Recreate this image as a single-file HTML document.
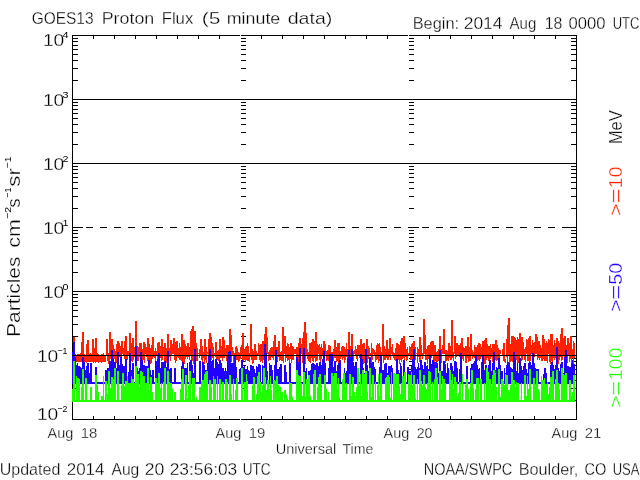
<!DOCTYPE html>
<html><head><meta charset="utf-8"><title>GOES13 Proton Flux</title>
<style>html,body{margin:0;padding:0;background:#fff;overflow:hidden}svg{display:block;will-change:transform}text{font-family:"Liberation Sans",sans-serif;fill:#000}.l{stroke:#000;stroke-width:1;fill:none;shape-rendering:crispEdges}.d{fill:none;stroke-width:1;shape-rendering:crispEdges;stroke-linejoin:miter}</style></head><body>
<svg width="640" height="480" viewBox="0 0 640 480">
<rect width="640" height="480" fill="#fff"/>
<path class="l" d="M72 35.5H577M72 419.5H577M72.5 35V420M576.5 35V420M93.5 35V39M93.5 416V420M114.5 35V39M114.5 416V420M135.5 35V39M135.5 416V420M156.5 35V39M156.5 416V420M177.5 35V39M177.5 416V420M198.5 35V39M198.5 416V420M219.5 35V39M219.5 416V420M261.5 35V39M261.5 416V420M282.5 35V39M282.5 416V420M303.5 35V39M303.5 416V420M324.5 35V39M324.5 416V420M345.5 35V39M345.5 416V420M366.5 35V39M366.5 416V420M387.5 35V39M387.5 416V420M429.5 35V39M429.5 416V420M450.5 35V39M450.5 416V420M471.5 35V39M471.5 416V420M492.5 35V39M492.5 416V420M513.5 35V39M513.5 416V420M534.5 35V39M534.5 416V420M555.5 35V39M555.5 416V420M72 400.5H78M571 400.5H577M72 388.5H78M571 388.5H577M72 380.5H78M571 380.5H577M72 374.5H78M571 374.5H577M72 369.5H78M571 369.5H577M72 365.5H78M571 365.5H577M72 361.5H78M571 361.5H577M72 358.5H78M571 358.5H577M72 336.5H78M571 336.5H577M72 324.5H78M571 324.5H577M72 316.5H78M571 316.5H577M72 310.5H78M571 310.5H577M72 305.5H78M571 305.5H577M72 301.5H78M571 301.5H577M72 297.5H78M571 297.5H577M72 294.5H78M571 294.5H577M72 272.5H78M571 272.5H577M72 260.5H78M571 260.5H577M72 252.5H78M571 252.5H577M72 246.5H78M571 246.5H577M72 241.5H78M571 241.5H577M72 237.5H78M571 237.5H577M72 233.5H78M571 233.5H577M72 230.5H78M571 230.5H577M72 208.5H78M571 208.5H577M72 196.5H78M571 196.5H577M72 188.5H78M571 188.5H577M72 182.5H78M571 182.5H577M72 177.5H78M571 177.5H577M72 173.5H78M571 173.5H577M72 169.5H78M571 169.5H577M72 166.5H78M571 166.5H577M72 144.5H78M571 144.5H577M72 132.5H78M571 132.5H577M72 124.5H78M571 124.5H577M72 118.5H78M571 118.5H577M72 113.5H78M571 113.5H577M72 109.5H78M571 109.5H577M72 105.5H78M571 105.5H577M72 102.5H78M571 102.5H577M72 80.5H78M571 80.5H577M72 68.5H78M571 68.5H577M72 60.5H78M571 60.5H577M72 54.5H78M571 54.5H577M72 49.5H78M571 49.5H577M72 45.5H78M571 45.5H577M72 41.5H78M571 41.5H577M72 38.5H78M571 38.5H577M241 400.5H246M241 388.5H246M241 380.5H246M241 374.5H246M241 369.5H246M241 365.5H246M241 361.5H246M241 358.5H246M241 336.5H246M241 324.5H246M241 316.5H246M241 310.5H246M241 305.5H246M241 301.5H246M241 297.5H246M241 294.5H246M241 272.5H246M241 260.5H246M241 252.5H246M241 246.5H246M241 241.5H246M241 237.5H246M241 233.5H246M241 230.5H246M241 208.5H246M241 196.5H246M241 188.5H246M241 182.5H246M241 177.5H246M241 173.5H246M241 169.5H246M241 166.5H246M241 144.5H246M241 132.5H246M241 124.5H246M241 118.5H246M241 113.5H246M241 109.5H246M241 105.5H246M241 102.5H246M241 80.5H246M241 68.5H246M241 60.5H246M241 54.5H246M241 49.5H246M241 45.5H246M241 41.5H246M241 38.5H246M409 400.5H414M409 388.5H414M409 380.5H414M409 374.5H414M409 369.5H414M409 365.5H414M409 361.5H414M409 358.5H414M409 336.5H414M409 324.5H414M409 316.5H414M409 310.5H414M409 305.5H414M409 301.5H414M409 297.5H414M409 294.5H414M409 272.5H414M409 260.5H414M409 252.5H414M409 246.5H414M409 241.5H414M409 237.5H414M409 233.5H414M409 230.5H414M409 208.5H414M409 196.5H414M409 188.5H414M409 182.5H414M409 177.5H414M409 173.5H414M409 169.5H414M409 166.5H414M409 144.5H414M409 132.5H414M409 124.5H414M409 118.5H414M409 113.5H414M409 109.5H414M409 105.5H414M409 102.5H414M409 80.5H414M409 68.5H414M409 60.5H414M409 54.5H414M409 49.5H414M409 45.5H414M409 41.5H414M409 38.5H414"/>
<path class="l" style="stroke:#fff" d="M240.5 35V420M408.5 35V420"/>
<path fill="#ff2000" shape-rendering="crispEdges" d="M72 354h1v9h-1zM73 337h2v25h-2zM75 354h1v8h-1zM76 355h1v7h-1zM77 354h3v8h-3zM80 353h1v9h-1zM81 342h1v20h-1zM82 332h2v30h-2zM84 354h1v8h-1zM85 355h1v7h-1zM86 344h1v19h-1zM87 340h2v22h-2zM89 354h1v8h-1zM90 353h1v9h-1zM91 354h1v8h-1zM92 339h1v23h-1zM93 339h1v24h-1zM94 348h1v14h-1zM95 338h1v25h-1zM96 338h1v24h-1zM97 353h1v9h-1zM98 354h1v9h-1zM99 355h2v7h-2zM101 354h1v9h-1zM102 354h1v8h-1zM103 353h1v9h-1zM104 355h2v7h-2zM106 339h1v17h-1zM107 339h1v22h-1zM108 353h1v11h-1zM109 332h1v30h-1zM110 332h1v27h-1zM111 339h1v21h-1zM112 339h1v18h-1zM113 345h1v16h-1zM114 349h1v10h-1zM115 351h1v11h-1zM116 344h1v19h-1zM117 341h1v21h-1zM118 341h1v16h-1zM119 343h1v14h-1zM120 346h1v15h-1zM121 341h1v21h-1zM122 341h1v13h-1zM123 348h1v8h-1zM124 341h1v18h-1zM125 336h1v24h-1zM126 336h1v25h-1zM127 351h1v9h-1zM128 351h1v5h-1zM129 333h1v23h-1zM130 333h1v30h-1zM131 343h1v18h-1zM132 338h1v24h-1zM133 338h1v22h-1zM134 347h1v10h-1zM135 321h1v38h-1zM136 321h1v40h-1zM137 346h1v15h-1zM138 347h1v14h-1zM139 343h1v14h-1zM140 343h2v21h-2zM142 349h1v14h-1zM143 342h1v18h-1zM144 342h1v21h-1zM145 344h1v10h-1zM146 347h1v10h-1zM147 338h1v23h-1zM148 338h1v26h-1zM149 344h1v19h-1zM150 348h1v16h-1zM151 345h1v18h-1zM152 337h1v22h-1zM153 337h1v20h-1zM154 351h1v7h-1zM155 348h1v16h-1zM156 351h1v5h-1zM157 343h1v17h-1zM158 342h1v21h-1zM159 342h1v15h-1zM160 346h1v12h-1zM161 339h1v22h-1zM162 339h1v21h-1zM163 347h1v9h-1zM164 343h2v18h-2zM166 348h1v15h-1zM167 334h1v27h-1zM168 334h1v25h-1zM169 348h1v9h-1zM170 340h1v21h-1zM171 340h1v16h-1zM172 344h1v10h-1zM173 338h1v16h-1zM174 338h1v22h-1zM175 342h1v21h-1zM176 341h1v20h-1zM177 341h1v16h-1zM178 348h1v10h-1zM179 343h1v17h-1zM180 347h1v13h-1zM181 334h1v27h-1zM182 334h1v29h-1zM183 340h2v24h-2zM185 344h1v15h-1zM186 346h1v11h-1zM187 343h1v16h-1zM188 343h1v14h-1zM189 347h1v13h-1zM190 331h1v25h-1zM191 329h1v32h-1zM192 326h1v35h-1zM193 326h1v38h-1zM194 331h1v25h-1zM195 331h1v31h-1zM196 343h1v18h-1zM197 348h1v13h-1zM198 353h1v1h-1zM199 349h1v9h-1zM200 339h1v17h-1zM201 339h1v21h-1zM202 346h1v18h-1zM203 352h1v6h-1zM204 339h1v25h-1zM205 339h1v21h-1zM206 347h1v16h-1zM207 352h1v2h-1zM208 339h1v22h-1zM209 333h1v26h-1zM210 333h1v28h-1zM211 337h1v23h-1zM212 343h1v15h-1zM213 347h1v13h-1zM214 353h1v3h-1zM215 342h1v15h-1zM216 342h1v18h-1zM217 351h1v9h-1zM218 350h1v11h-1zM219 339h1v24h-1zM220 339h1v19h-1zM221 346h1v12h-1zM222 337h1v24h-1zM223 337h1v21h-1zM224 340h1v18h-1zM225 348h1v8h-1zM226 345h1v16h-1zM227 345h1v19h-1zM228 345h1v15h-1zM229 329h1v32h-1zM230 329h1v33h-1zM231 335h1v27h-1zM232 347h1v9h-1zM233 351h1v13h-1zM234 353h1v5h-1zM235 347h1v13h-1zM236 346h1v14h-1zM237 348h1v12h-1zM238 352h1v10h-1zM239 353h1v8h-1zM240 347h1v12h-1zM241 345h1v11h-1zM242 333h1v29h-1zM243 333h1v28h-1zM244 349h1v11h-1zM245 347h1v15h-1zM246 346h1v14h-1zM247 343h1v18h-1zM248 346h1v15h-1zM249 353h1v9h-1zM250 324h1v33h-1zM251 324h1v36h-1zM252 349h1v15h-1zM253 351h1v12h-1zM254 344h2v16h-2zM256 351h1v9h-1zM257 353h1v3h-1zM258 343h1v13h-1zM259 345h1v15h-1zM260 344h1v18h-1zM261 344h1v17h-1zM262 341h1v22h-1zM263 341h1v19h-1zM264 334h1v27h-1zM265 327h1v33h-1zM266 327h1v29h-1zM267 337h1v17h-1zM268 352h1v9h-1zM269 350h1v10h-1zM270 348h1v12h-1zM271 347h1v10h-1zM272 347h1v11h-1zM273 341h1v19h-1zM274 335h1v21h-1zM275 335h1v22h-1zM276 347h2v15h-2zM278 341h1v16h-1zM279 341h1v20h-1zM280 352h1v8h-1zM281 351h1v10h-1zM282 327h1v34h-1zM283 327h1v36h-1zM284 336h1v18h-1zM285 336h1v26h-1zM286 346h1v12h-1zM287 343h1v18h-1zM288 344h1v16h-1zM289 347h1v17h-1zM290 343h1v16h-1zM291 343h1v20h-1zM292 346h1v14h-1zM293 347h1v13h-1zM294 349h2v5h-2zM296 347h1v10h-1zM297 347h1v14h-1zM298 343h1v20h-1zM299 338h1v21h-1zM300 338h1v24h-1zM301 344h1v10h-1zM302 338h1v25h-1zM303 332h1v29h-1zM304 322h1v34h-1zM305 322h1v42h-1zM306 333h1v23h-1zM307 349h1v10h-1zM308 352h1v9h-1zM309 343h1v19h-1zM310 343h1v20h-1zM311 342h1v16h-1zM312 339h1v22h-1zM313 339h1v23h-1zM314 341h1v17h-1zM315 332h1v30h-1zM316 332h1v29h-1zM317 344h1v16h-1zM318 345h1v9h-1zM319 344h1v16h-1zM320 347h1v17h-1zM321 344h1v15h-1zM322 348h1v8h-1zM323 341h1v21h-1zM324 341h1v19h-1zM325 344h1v12h-1zM326 351h1v10h-1zM327 350h1v10h-1zM328 345h1v16h-1zM329 345h1v12h-1zM330 346h1v14h-1zM331 352h2v9h-2zM333 349h1v12h-1zM334 340h2v18h-2zM336 347h1v15h-1zM337 343h1v18h-1zM338 343h1v21h-1zM339 343h1v17h-1zM340 351h1v8h-1zM341 347h1v10h-1zM342 346h1v14h-1zM343 346h1v12h-1zM344 347h1v16h-1zM345 349h1v11h-1zM346 343h1v14h-1zM347 349h1v11h-1zM348 332h1v32h-1zM349 332h1v26h-1zM350 346h1v17h-1zM351 334h1v28h-1zM352 334h1v25h-1zM353 351h1v10h-1zM354 350h1v4h-1zM355 346h1v10h-1zM356 349h1v10h-1zM357 345h1v16h-1zM358 345h1v11h-1zM359 345h1v13h-1zM360 339h2v25h-2zM362 344h1v16h-1zM363 343h1v21h-1zM364 343h1v20h-1zM365 353h1v5h-1zM366 339h1v15h-1zM367 339h1v24h-1zM368 346h1v13h-1zM369 348h1v8h-1zM370 353h1v3h-1zM371 343h1v21h-1zM372 348h1v12h-1zM373 349h1v5h-1zM374 350h1v6h-1zM375 352h1v10h-1zM376 345h1v15h-1zM377 343h1v16h-1zM378 344h1v19h-1zM379 343h1v18h-1zM380 347h1v10h-1zM381 352h1v9h-1zM382 324h1v32h-1zM383 324h1v39h-1zM384 346h1v14h-1zM385 349h1v11h-1zM386 340h1v18h-1zM387 340h1v20h-1zM388 349h1v11h-1zM389 338h1v19h-1zM390 338h1v22h-1zM391 347h1v7h-1zM392 344h1v12h-1zM393 352h1v6h-1zM394 353h1v7h-1zM395 348h1v13h-1zM396 343h2v18h-2zM398 344h1v16h-1zM399 345h1v19h-1zM400 341h1v19h-1zM401 338h1v24h-1zM402 338h1v21h-1zM403 336h1v22h-1zM404 336h1v25h-1zM405 343h1v14h-1zM406 349h1v12h-1zM407 347h1v13h-1zM408 353h1v3h-1zM409 346h1v10h-1zM410 347h1v13h-1zM411 344h1v16h-1zM412 343h1v18h-1zM413 341h1v19h-1zM414 341h1v13h-1zM415 347h1v13h-1zM416 353h1v1h-1zM417 347h1v16h-1zM418 349h1v8h-1zM419 337h1v25h-1zM420 337h1v26h-1zM421 345h1v11h-1zM422 353h1v6h-1zM423 319h1v37h-1zM424 319h1v35h-1zM425 335h1v25h-1zM426 349h1v11h-1zM427 346h1v18h-1zM428 345h2v14h-2zM430 342h1v18h-1zM431 341h1v17h-1zM432 341h1v15h-1zM433 341h1v23h-1zM434 345h1v17h-1zM435 345h1v16h-1zM436 352h1v11h-1zM437 351h1v11h-1zM438 349h1v12h-1zM439 336h1v25h-1zM440 336h1v28h-1zM441 349h1v14h-1zM442 345h1v9h-1zM443 329h2v25h-2zM445 350h1v13h-1zM446 350h1v11h-1zM447 351h1v9h-1zM448 343h1v18h-1zM449 343h1v15h-1zM450 346h1v14h-1zM451 320h1v40h-1zM452 320h1v38h-1zM453 352h1v9h-1zM454 336h1v18h-1zM455 336h1v23h-1zM456 343h1v14h-1zM457 343h1v13h-1zM458 345h1v11h-1zM459 345h1v12h-1zM460 343h1v18h-1zM461 338h1v22h-1zM462 338h1v21h-1zM463 347h1v14h-1zM464 348h1v8h-1zM465 346h2v17h-2zM467 337h1v21h-1zM468 337h1v25h-1zM469 347h1v14h-1zM470 334h1v27h-1zM471 334h1v22h-1zM472 350h1v9h-1zM473 352h1v5h-1zM474 345h1v13h-1zM475 347h1v13h-1zM476 347h1v15h-1zM477 345h1v16h-1zM478 343h1v17h-1zM479 343h1v18h-1zM480 344h1v15h-1zM481 347h1v10h-1zM482 341h1v19h-1zM483 341h1v23h-1zM484 340h1v24h-1zM485 338h1v26h-1zM486 338h1v22h-1zM487 344h1v14h-1zM488 346h1v15h-1zM489 346h1v14h-1zM490 344h1v15h-1zM491 348h1v9h-1zM492 344h1v18h-1zM493 344h1v16h-1zM494 344h1v20h-1zM495 340h1v20h-1zM496 340h1v21h-1zM497 345h1v15h-1zM498 348h1v16h-1zM499 350h1v10h-1zM500 350h1v4h-1zM502 349h1v7h-1zM503 343h1v18h-1zM504 343h1v19h-1zM505 359h1v4h-1zM506 339h1v18h-1zM507 325h1v39h-1zM508 318h1v38h-1zM509 318h1v46h-1zM510 344h1v18h-1zM511 336h1v25h-1zM512 336h1v26h-1zM513 336h1v27h-1zM514 337h1v26h-1zM515 338h1v22h-1zM516 340h1v20h-1zM517 337h1v27h-1zM518 339h1v24h-1zM519 333h1v30h-1zM520 333h1v23h-1zM521 337h1v24h-1zM522 337h1v23h-1zM523 342h1v14h-1zM524 349h1v11h-1zM525 347h1v15h-1zM526 339h1v15h-1zM527 340h1v21h-1zM528 338h1v23h-1zM529 336h1v26h-1zM530 336h1v25h-1zM531 345h1v9h-1zM532 340h1v24h-1zM533 343h1v19h-1zM534 342h1v15h-1zM535 334h2v20h-2zM537 337h1v23h-1zM538 341h1v17h-1zM539 341h1v19h-1zM540 345h1v13h-1zM541 348h1v13h-1zM542 335h1v26h-1zM543 335h1v24h-1zM544 339h1v22h-1zM545 343h1v18h-1zM546 341h1v20h-1zM547 343h1v20h-1zM548 339h1v15h-1zM549 340h1v22h-1zM550 334h1v30h-1zM551 334h1v27h-1zM552 334h1v28h-1zM553 345h1v13h-1zM554 340h1v20h-1zM555 343h1v15h-1zM556 338h1v26h-1zM557 338h1v18h-1zM558 341h1v23h-1zM559 343h1v17h-1zM560 334h1v23h-1zM561 328h1v33h-1zM562 328h1v32h-1zM563 338h1v18h-1zM564 336h1v27h-1zM565 336h1v18h-1zM566 345h1v16h-1zM567 338h1v25h-1zM568 338h1v18h-1zM569 343h1v19h-1zM570 336h1v23h-1zM571 336h1v28h-1zM572 349h1v9h-1zM573 341h1v23h-1zM574 343h1v15h-1z"/>
<path fill="#2000ff" shape-rendering="crispEdges" d="M72 352h1v32h-1zM73 342h2v42h-2zM75 357h1v27h-1zM76 365h1v19h-1zM77 363h1v21h-1zM78 366h2v18h-2zM80 367h1v17h-1zM81 368h1v16h-1zM82 357h2v27h-2zM84 362h1v22h-1zM85 370h1v14h-1zM86 366h1v18h-1zM87 363h2v21h-2zM89 373h1v11h-1zM90 363h2v21h-2zM92 382h3v2h-3zM95 367h2v17h-2zM97 382h8v2h-8zM105 370h2v14h-2zM107 368h2v16h-2zM109 361h2v23h-2zM111 350h2v34h-2zM113 359h1v25h-1zM114 362h2v22h-2zM116 368h1v16h-1zM117 352h2v32h-2zM119 365h1v19h-1zM120 357h2v27h-2zM122 364h1v20h-1zM123 366h2v18h-2zM125 359h2v25h-2zM127 382h1v2h-1zM128 372h1v12h-1zM129 353h2v31h-2zM131 370h1v14h-1zM132 363h2v21h-2zM134 382h1v2h-1zM135 346h2v38h-2zM137 368h1v16h-1zM138 371h1v13h-1zM139 368h1v16h-1zM140 352h2v32h-2zM142 360h1v24h-1zM143 365h2v19h-2zM145 366h3v18h-3zM148 360h2v24h-2zM150 370h1v14h-1zM151 375h1v9h-1zM152 370h2v14h-2zM154 382h1v2h-1zM155 361h2v23h-2zM157 359h1v25h-1zM158 353h2v31h-2zM160 368h1v16h-1zM161 362h3v22h-3zM164 361h2v23h-2zM166 367h1v17h-1zM167 351h2v33h-2zM169 369h1v15h-1zM170 368h2v16h-2zM172 382h2v2h-2zM174 368h2v16h-2zM176 382h5v2h-5zM181 366h1v18h-1zM182 362h2v22h-2zM184 368h3v16h-3zM187 363h1v21h-1zM188 382h1v2h-1zM189 362h1v22h-1zM190 360h2v24h-2zM192 365h1v19h-1zM193 373h1v11h-1zM194 349h2v35h-2zM196 382h3v2h-3zM199 361h2v23h-2zM201 382h1v2h-1zM202 362h2v22h-2zM204 365h1v19h-1zM205 370h2v14h-2zM207 363h1v21h-1zM208 355h1v29h-1zM209 349h2v35h-2zM211 361h1v23h-1zM212 360h2v24h-2zM214 368h1v16h-1zM215 359h2v25h-2zM217 362h1v22h-1zM218 364h1v20h-1zM219 360h2v24h-2zM221 363h1v21h-1zM222 368h2v16h-2zM224 371h1v13h-1zM225 368h1v16h-1zM226 371h1v13h-1zM227 355h1v29h-1zM228 352h1v32h-1zM229 351h2v33h-2zM231 363h3v21h-3zM234 355h2v29h-2zM236 367h1v17h-1zM237 382h2v2h-2zM239 369h1v15h-1zM240 368h1v16h-1zM241 360h2v24h-2zM243 367h1v17h-1zM244 366h1v18h-1zM245 369h2v15h-2zM247 366h1v18h-1zM248 370h1v14h-1zM249 371h1v13h-1zM250 365h2v19h-2zM252 366h2v18h-2zM254 369h1v15h-1zM255 373h1v11h-1zM256 366h1v18h-1zM257 367h1v17h-1zM258 364h2v20h-2zM260 365h1v19h-1zM261 382h1v2h-1zM262 365h1v19h-1zM263 366h1v18h-1zM264 344h2v40h-2zM266 353h1v31h-1zM267 371h1v13h-1zM268 382h1v2h-1zM269 363h1v21h-1zM270 365h2v19h-2zM272 370h1v14h-1zM273 382h1v2h-1zM274 365h1v19h-1zM275 350h2v34h-2zM277 369h2v15h-2zM279 367h1v17h-1zM280 364h2v20h-2zM282 382h2v2h-2zM284 365h2v19h-2zM286 372h1v12h-1zM287 382h2v2h-2zM289 363h2v21h-2zM291 382h5v2h-5zM296 357h2v27h-2zM298 362h1v22h-1zM299 348h2v36h-2zM301 382h2v2h-2zM303 348h2v36h-2zM305 371h1v13h-1zM306 368h1v16h-1zM307 382h1v2h-1zM308 371h2v13h-2zM310 370h1v14h-1zM311 364h1v20h-1zM312 363h2v21h-2zM314 364h1v20h-1zM315 365h1v19h-1zM316 363h2v21h-2zM318 366h1v18h-1zM319 362h2v22h-2zM321 365h1v19h-1zM322 359h1v25h-1zM323 351h2v33h-2zM325 363h1v21h-1zM326 382h2v2h-2zM328 368h1v16h-1zM329 354h4v30h-4zM333 367h1v17h-1zM334 361h2v23h-2zM336 371h1v13h-1zM337 365h1v19h-1zM338 363h1v21h-1zM339 360h2v24h-2zM341 382h3v2h-3zM344 368h1v16h-1zM345 373h1v11h-1zM346 371h1v13h-1zM347 358h1v26h-1zM348 350h2v34h-2zM350 357h1v27h-1zM351 349h2v35h-2zM353 362h1v22h-1zM354 366h1v18h-1zM355 362h2v22h-2zM357 372h1v12h-1zM358 369h1v15h-1zM359 382h1v2h-1zM360 354h2v30h-2zM362 359h1v25h-1zM363 368h1v16h-1zM364 373h1v11h-1zM365 349h2v35h-2zM367 365h1v19h-1zM368 371h1v13h-1zM369 357h2v27h-2zM371 363h1v21h-1zM372 362h2v22h-2zM374 367h1v17h-1zM375 369h1v15h-1zM376 382h3v2h-3zM379 367h1v17h-1zM380 356h2v28h-2zM382 370h2v14h-2zM384 364h1v20h-1zM385 363h2v21h-2zM387 373h1v11h-1zM388 366h3v18h-3zM391 365h1v19h-1zM392 368h1v16h-1zM393 382h3v2h-3zM396 359h2v25h-2zM398 370h1v14h-1zM399 373h1v11h-1zM400 363h1v21h-1zM401 366h1v18h-1zM402 382h1v2h-1zM403 360h2v24h-2zM405 382h2v2h-2zM407 367h2v17h-2zM409 371h2v13h-2zM411 366h1v18h-1zM412 359h1v25h-1zM413 349h2v35h-2zM415 367h1v17h-1zM416 369h1v15h-1zM417 367h1v17h-1zM418 363h1v21h-1zM419 368h1v16h-1zM420 360h2v24h-2zM422 365h1v19h-1zM423 369h1v15h-1zM424 362h2v22h-2zM426 366h1v18h-1zM427 365h1v19h-1zM428 369h1v15h-1zM429 355h2v29h-2zM431 364h1v20h-1zM432 360h2v24h-2zM434 362h3v22h-3zM437 363h1v21h-1zM438 373h1v11h-1zM439 350h2v34h-2zM441 371h2v13h-2zM443 361h2v23h-2zM445 364h1v20h-1zM446 373h1v11h-1zM447 363h1v21h-1zM448 368h1v16h-1zM449 371h1v13h-1zM450 363h2v21h-2zM452 366h1v18h-1zM453 371h1v13h-1zM454 361h2v23h-2zM456 362h1v22h-1zM457 368h1v16h-1zM458 382h1v2h-1zM459 369h1v15h-1zM460 353h2v31h-2zM462 382h4v2h-4zM466 366h2v18h-2zM468 382h2v2h-2zM470 368h1v16h-1zM471 364h2v20h-2zM473 363h1v21h-1zM474 361h1v23h-1zM475 355h2v29h-2zM477 365h1v19h-1zM478 369h1v15h-1zM479 368h1v16h-1zM480 382h1v2h-1zM481 362h1v22h-1zM482 356h2v28h-2zM484 370h1v14h-1zM485 365h2v19h-2zM487 369h1v15h-1zM488 365h1v19h-1zM489 360h2v24h-2zM491 371h1v13h-1zM492 363h1v21h-1zM493 352h2v32h-2zM495 370h1v14h-1zM496 367h1v17h-1zM497 368h1v16h-1zM498 358h2v26h-2zM500 365h1v19h-1zM501 371h2v13h-2zM503 382h1v2h-1zM504 368h1v16h-1zM505 373h1v11h-1zM506 365h1v19h-1zM507 362h2v22h-2zM509 363h1v21h-1zM510 367h1v17h-1zM511 368h1v16h-1zM512 369h1v15h-1zM513 352h2v32h-2zM515 359h1v25h-1zM516 371h1v13h-1zM517 363h1v21h-1zM518 373h1v11h-1zM519 358h2v26h-2zM521 366h1v18h-1zM522 370h1v14h-1zM523 366h1v18h-1zM524 363h2v21h-2zM526 369h1v15h-1zM527 373h1v11h-1zM528 363h1v21h-1zM529 362h2v22h-2zM531 365h1v19h-1zM532 353h2v31h-2zM534 363h1v21h-1zM535 368h1v16h-1zM536 369h3v15h-3zM539 382h4v2h-4zM543 374h1v10h-1zM544 368h2v16h-2zM546 373h1v11h-1zM547 382h3v2h-3zM550 365h1v19h-1zM551 362h2v22h-2zM553 365h1v19h-1zM554 369h1v15h-1zM555 365h1v19h-1zM556 347h2v37h-2zM558 368h1v16h-1zM559 371h1v13h-1zM560 364h1v20h-1zM561 362h2v22h-2zM563 373h1v11h-1zM564 357h1v27h-1zM565 350h2v34h-2zM567 366h2v18h-2zM569 367h2v17h-2zM571 363h1v21h-1zM572 360h1v24h-1zM573 364h2v20h-2z"/>
<path fill="#20ff00" shape-rendering="crispEdges" d="M72 389h1v13h-1zM73 361h2v41h-2zM75 400h1v2h-1zM76 376h1v26h-1zM77 378h2v24h-2zM79 379h1v23h-1zM80 400h1v2h-1zM81 387h1v15h-1zM82 369h2v33h-2zM84 400h1v2h-1zM85 378h2v24h-2zM87 400h3v2h-3zM90 387h2v15h-2zM92 400h3v2h-3zM95 375h2v27h-2zM97 385h1v17h-1zM98 392h1v10h-1zM99 400h2v2h-2zM101 396h2v6h-2zM103 376h1v26h-1zM104 400h1v2h-1zM105 381h2v21h-2zM107 394h1v8h-1zM108 371h2v31h-2zM110 388h1v14h-1zM111 377h2v25h-2zM113 379h1v23h-1zM114 368h2v34h-2zM116 400h1v2h-1zM117 371h2v31h-2zM119 400h2v2h-2zM121 385h1v17h-1zM122 373h2v29h-2zM124 386h1v16h-1zM125 381h2v21h-2zM127 376h1v26h-1zM128 383h3v19h-3zM131 376h1v26h-1zM132 379h2v23h-2zM134 383h1v19h-1zM135 366h2v36h-2zM137 374h2v28h-2zM139 387h1v15h-1zM140 371h2v31h-2zM142 372h1v30h-1zM143 376h2v26h-2zM145 383h2v19h-2zM147 368h2v34h-2zM149 390h1v12h-1zM150 377h2v25h-2zM152 392h1v10h-1zM153 400h2v2h-2zM155 378h2v24h-2zM157 383h1v19h-1zM158 373h2v29h-2zM160 388h1v14h-1zM161 383h1v19h-1zM162 400h1v2h-1zM163 382h1v20h-1zM164 368h2v34h-2zM166 400h1v2h-1zM167 371h2v31h-2zM169 382h1v20h-1zM170 383h2v19h-2zM172 389h1v13h-1zM173 400h1v2h-1zM174 392h2v10h-2zM176 400h4v2h-4zM180 389h1v13h-1zM181 379h1v23h-1zM182 369h2v33h-2zM184 400h1v2h-1zM185 375h2v27h-2zM187 398h1v4h-1zM188 385h1v17h-1zM189 371h2v31h-2zM191 400h1v2h-1zM192 378h3v24h-3zM195 400h1v2h-1zM196 397h1v5h-1zM197 400h2v2h-2zM199 387h2v15h-2zM201 381h1v21h-1zM202 380h2v22h-2zM204 374h1v28h-1zM205 372h1v30h-1zM206 371h2v31h-2zM208 400h1v2h-1zM209 380h2v22h-2zM211 387h1v15h-1zM212 400h1v2h-1zM213 376h1v26h-1zM214 379h2v23h-2zM216 400h1v2h-1zM217 376h1v26h-1zM218 400h1v2h-1zM219 379h2v23h-2zM221 400h1v2h-1zM222 382h2v20h-2zM224 400h1v2h-1zM225 379h2v23h-2zM227 382h1v20h-1zM228 400h1v2h-1zM229 375h2v27h-2zM231 394h1v8h-1zM232 400h1v2h-1zM233 379h1v23h-1zM234 400h1v2h-1zM235 390h1v12h-1zM236 378h2v24h-2zM238 400h3v2h-3zM241 368h2v34h-2zM243 400h1v2h-1zM244 382h2v20h-2zM246 374h1v28h-1zM247 381h1v21h-1zM248 400h4v2h-4zM252 385h1v17h-1zM253 377h2v25h-2zM255 400h1v2h-1zM256 394h1v8h-1zM257 376h1v26h-1zM258 372h2v30h-2zM260 382h1v20h-1zM261 392h1v10h-1zM262 385h1v17h-1zM263 368h2v34h-2zM265 377h1v25h-1zM266 390h1v12h-1zM267 380h2v22h-2zM269 389h1v13h-1zM270 376h1v26h-1zM271 390h1v12h-1zM272 400h1v2h-1zM273 380h2v22h-2zM275 381h1v21h-1zM276 376h2v26h-2zM278 385h1v17h-1zM279 387h2v15h-2zM281 391h1v11h-1zM282 392h1v10h-1zM283 400h1v2h-1zM284 390h2v12h-2zM286 394h1v8h-1zM287 398h1v4h-1zM288 400h1v2h-1zM289 382h1v20h-1zM290 383h2v19h-2zM292 397h1v5h-1zM293 400h3v2h-3zM296 370h2v32h-2zM298 375h1v27h-1zM299 376h2v26h-2zM301 383h1v19h-1zM302 396h1v6h-1zM303 372h2v30h-2zM305 397h1v5h-1zM306 379h2v23h-2zM308 375h2v27h-2zM310 396h1v6h-1zM311 400h2v2h-2zM313 374h1v28h-1zM314 370h2v32h-2zM316 400h1v2h-1zM317 387h1v15h-1zM318 377h1v25h-1zM319 374h2v28h-2zM321 385h1v17h-1zM322 400h2v2h-2zM324 375h2v27h-2zM326 389h1v13h-1zM327 400h1v2h-1zM328 392h1v10h-1zM329 400h2v2h-2zM331 373h2v29h-2zM333 376h1v26h-1zM334 373h3v29h-3zM337 389h1v13h-1zM338 378h1v24h-1zM339 397h1v5h-1zM340 400h2v2h-2zM342 379h1v23h-1zM343 373h2v29h-2zM345 387h1v15h-1zM346 383h1v19h-1zM347 400h2v2h-2zM349 374h2v28h-2zM351 396h1v6h-1zM352 377h2v25h-2zM354 392h1v10h-1zM355 396h1v6h-1zM356 387h1v15h-1zM357 368h2v34h-2zM359 386h1v16h-1zM360 374h1v28h-1zM361 396h1v6h-1zM362 370h2v32h-2zM364 374h1v28h-1zM365 371h2v31h-2zM367 392h1v10h-1zM368 400h1v2h-1zM369 368h2v34h-2zM371 397h1v5h-1zM372 375h2v27h-2zM374 400h1v2h-1zM375 382h1v20h-1zM376 400h1v2h-1zM377 385h1v17h-1zM378 374h1v28h-1zM379 396h1v6h-1zM380 373h2v29h-2zM382 400h3v2h-3zM385 378h1v24h-1zM386 377h1v25h-1zM387 375h2v27h-2zM389 377h1v25h-1zM390 398h1v4h-1zM391 372h1v30h-1zM392 400h1v2h-1zM393 373h2v29h-2zM395 374h4v28h-4zM399 386h1v16h-1zM400 394h1v8h-1zM401 383h1v19h-1zM402 376h2v26h-2zM404 372h2v30h-2zM406 400h2v2h-2zM408 374h1v28h-1zM409 375h2v27h-2zM411 372h1v30h-1zM412 385h1v17h-1zM413 375h2v27h-2zM415 398h1v4h-1zM416 400h1v2h-1zM417 379h1v23h-1zM418 400h1v2h-1zM419 370h2v32h-2zM421 381h1v21h-1zM422 385h1v17h-1zM423 375h2v27h-2zM425 387h1v15h-1zM426 389h1v13h-1zM427 383h1v19h-1zM428 371h2v31h-2zM430 372h1v30h-1zM431 400h1v2h-1zM432 382h1v20h-1zM433 400h1v2h-1zM434 379h1v23h-1zM435 368h2v34h-2zM437 377h1v25h-1zM438 400h1v2h-1zM439 371h2v31h-2zM441 389h1v13h-1zM442 376h1v26h-1zM443 379h2v23h-2zM445 383h1v19h-1zM446 400h3v2h-3zM449 370h2v32h-2zM451 380h1v22h-1zM452 374h1v28h-1zM453 389h1v13h-1zM454 377h2v25h-2zM456 382h1v20h-1zM457 396h1v6h-1zM458 393h1v9h-1zM459 382h2v20h-2zM461 400h1v2h-1zM462 374h1v28h-1zM463 400h2v2h-2zM465 385h1v17h-1zM466 379h2v23h-2zM468 389h1v13h-1zM469 400h1v2h-1zM470 383h1v19h-1zM471 370h2v32h-2zM473 388h1v14h-1zM474 400h1v2h-1zM475 389h1v13h-1zM476 378h3v24h-3zM479 400h1v2h-1zM480 379h2v23h-2zM482 400h2v2h-2zM484 383h1v19h-1zM485 400h1v2h-1zM486 368h2v34h-2zM488 372h1v30h-1zM489 379h2v23h-2zM491 386h1v16h-1zM492 375h1v27h-1zM493 370h2v32h-2zM495 373h1v29h-1zM496 387h1v15h-1zM497 400h1v2h-1zM498 369h2v33h-2zM500 397h1v5h-1zM501 379h2v23h-2zM503 381h1v21h-1zM504 385h1v17h-1zM505 374h1v28h-1zM506 375h2v27h-2zM508 390h1v12h-1zM509 392h1v10h-1zM510 385h1v17h-1zM511 372h2v30h-2zM513 380h2v22h-2zM515 387h1v15h-1zM516 382h1v20h-1zM517 383h2v19h-2zM519 400h2v2h-2zM521 383h1v19h-1zM522 400h2v2h-2zM524 375h2v27h-2zM526 396h1v6h-1zM527 376h1v26h-1zM528 389h1v13h-1zM529 369h2v33h-2zM531 400h2v2h-2zM533 378h2v24h-2zM535 384h1v18h-1zM536 371h2v31h-2zM538 389h1v13h-1zM539 392h1v10h-1zM540 400h1v2h-1zM541 376h1v26h-1zM542 380h2v22h-2zM544 378h1v24h-1zM545 384h2v18h-2zM547 382h1v20h-1zM548 394h1v8h-1zM549 387h1v15h-1zM550 377h2v25h-2zM552 371h2v31h-2zM554 400h1v2h-1zM555 379h1v23h-1zM556 370h2v32h-2zM558 383h1v19h-1zM559 389h1v13h-1zM560 400h1v2h-1zM561 368h2v34h-2zM563 374h1v28h-1zM564 375h1v27h-1zM565 373h2v29h-2zM567 400h2v2h-2zM569 380h2v22h-2zM571 396h1v6h-1zM572 392h1v10h-1zM573 375h2v27h-2z"/>

<path class="l" d="M72 99.5H577M72 163.5H577M72 291.5H577M72 355.5H577"/>
<path class="l" d="M72 227.5H79M86 227.5H93M100 227.5H107M114 227.5H121M128 227.5H135M142 227.5H149M156 227.5H163M170 227.5H177M184 227.5H191M198 227.5H205M212 227.5H219M226 227.5H233M240 227.5H247M254 227.5H261M268 227.5H275M282 227.5H289M296 227.5H303M310 227.5H317M324 227.5H331M338 227.5H345M352 227.5H359M366 227.5H373M380 227.5H387M394 227.5H401M408 227.5H415M422 227.5H429M436 227.5H443M450 227.5H457M464 227.5H471M478 227.5H485M492 227.5H499M506 227.5H513M520 227.5H527M534 227.5H541M548 227.5H555M562 227.5H569M576 227.5H577M72 227.5H83M240 227.5H251M408 227.5H419M566 227.5H577"/>
<text x="31.70" y="24" font-size="17" textLength="61.80" lengthAdjust="spacingAndGlyphs" style="fill:#000;stroke:#fff;stroke-width:0.3;paint-order:fill stroke">GOES13</text>
<text x="101.70" y="24" font-size="17" textLength="52.60" lengthAdjust="spacingAndGlyphs" style="fill:#000;stroke:#fff;stroke-width:0.3;paint-order:fill stroke">Proton</text>
<text x="161.70" y="24" font-size="17" textLength="31.60" lengthAdjust="spacingAndGlyphs" style="fill:#000;stroke:#fff;stroke-width:0.3;paint-order:fill stroke">Flux</text>
<text x="201.70" y="24" font-size="17" textLength="18.60" lengthAdjust="spacingAndGlyphs" style="fill:#000;stroke:#fff;stroke-width:0.3;paint-order:fill stroke">(5</text>
<text x="226.70" y="24" font-size="17" textLength="53.60" lengthAdjust="spacingAndGlyphs" style="fill:#000;stroke:#fff;stroke-width:0.3;paint-order:fill stroke">minute</text>
<text x="287.70" y="24" font-size="17" textLength="44.60" lengthAdjust="spacingAndGlyphs" style="fill:#000;stroke:#fff;stroke-width:0.3;paint-order:fill stroke">data)</text>
<text x="412.70" y="29" font-size="15.8" textLength="46.40" lengthAdjust="spacingAndGlyphs" style="fill:#000;stroke:#fff;stroke-width:0.3;paint-order:fill stroke">Begin:</text>
<text x="463.70" y="29" font-size="15.8" textLength="38.80" lengthAdjust="spacingAndGlyphs" style="fill:#000;stroke:#fff;stroke-width:0.3;paint-order:fill stroke">2014</text>
<text x="509.50" y="29" font-size="15.8" textLength="26.80" lengthAdjust="spacingAndGlyphs" style="fill:#000;stroke:#fff;stroke-width:0.3;paint-order:fill stroke">Aug</text>
<text x="544.70" y="29" font-size="15.8" textLength="17.60" lengthAdjust="spacingAndGlyphs" style="fill:#000;stroke:#fff;stroke-width:0.3;paint-order:fill stroke">18</text>
<text x="568.50" y="29" font-size="15.8" textLength="37.00" lengthAdjust="spacingAndGlyphs" style="fill:#000;stroke:#fff;stroke-width:0.3;paint-order:fill stroke">0000</text>
<text x="612.70" y="29" font-size="15.8" textLength="26.80" lengthAdjust="spacingAndGlyphs" style="fill:#000;stroke:#fff;stroke-width:0.3;paint-order:fill stroke">UTC</text>
<text x="-0.30" y="475" font-size="15.8" textLength="60.60" lengthAdjust="spacingAndGlyphs" style="fill:#000;stroke:#fff;stroke-width:0.3;paint-order:fill stroke">Updated</text>
<text x="66.70" y="475" font-size="15.8" textLength="37.80" lengthAdjust="spacingAndGlyphs" style="fill:#000;stroke:#fff;stroke-width:0.3;paint-order:fill stroke">2014</text>
<text x="111.50" y="475" font-size="15.8" textLength="27.80" lengthAdjust="spacingAndGlyphs" style="fill:#000;stroke:#fff;stroke-width:0.3;paint-order:fill stroke">Aug</text>
<text x="144.70" y="475" font-size="15.8" textLength="19.60" lengthAdjust="spacingAndGlyphs" style="fill:#000;stroke:#fff;stroke-width:0.3;paint-order:fill stroke">20</text>
<text x="169.70" y="475" font-size="15.8" textLength="67.60" lengthAdjust="spacingAndGlyphs" style="fill:#000;stroke:#fff;stroke-width:0.3;paint-order:fill stroke">23:56:03</text>
<text x="242.70" y="475" font-size="15.8" textLength="27.80" lengthAdjust="spacingAndGlyphs" style="fill:#000;stroke:#fff;stroke-width:0.3;paint-order:fill stroke">UTC</text>
<text x="423.70" y="475" font-size="15.8" textLength="88.60" lengthAdjust="spacingAndGlyphs" style="fill:#000;stroke:#fff;stroke-width:0.3;paint-order:fill stroke">NOAA/SWPC</text>
<text x="518.70" y="475" font-size="15.8" textLength="59.60" lengthAdjust="spacingAndGlyphs" style="fill:#000;stroke:#fff;stroke-width:0.3;paint-order:fill stroke">Boulder,</text>
<text x="584.50" y="475" font-size="15.8" textLength="21.80" lengthAdjust="spacingAndGlyphs" style="fill:#000;stroke:#fff;stroke-width:0.3;paint-order:fill stroke">CO</text>
<text x="612.70" y="475" font-size="15.8" textLength="26.80" lengthAdjust="spacingAndGlyphs" style="fill:#000;stroke:#fff;stroke-width:0.3;paint-order:fill stroke">USA</text>
<text x="275.70" y="454" font-size="14" textLength="60.60" lengthAdjust="spacingAndGlyphs" style="fill:#000;stroke:#fff;stroke-width:0.3;paint-order:fill stroke">Universal</text>
<text x="342.50" y="454" font-size="14" textLength="30.80" lengthAdjust="spacingAndGlyphs" style="fill:#000;stroke:#fff;stroke-width:0.3;paint-order:fill stroke">Time</text>
<text x="47.50" y="438" font-size="14" textLength="25.80" lengthAdjust="spacingAndGlyphs" style="fill:#000;stroke:#fff;stroke-width:0.3;paint-order:fill stroke">Aug</text>
<text x="80.70" y="438" font-size="14" textLength="16.60" lengthAdjust="spacingAndGlyphs" style="fill:#000;stroke:#fff;stroke-width:0.3;paint-order:fill stroke">18</text>
<text x="215.50" y="438" font-size="14" textLength="25.80" lengthAdjust="spacingAndGlyphs" style="fill:#000;stroke:#fff;stroke-width:0.3;paint-order:fill stroke">Aug</text>
<text x="248.70" y="438" font-size="14" textLength="16.60" lengthAdjust="spacingAndGlyphs" style="fill:#000;stroke:#fff;stroke-width:0.3;paint-order:fill stroke">19</text>
<text x="383.50" y="438" font-size="14" textLength="25.80" lengthAdjust="spacingAndGlyphs" style="fill:#000;stroke:#fff;stroke-width:0.3;paint-order:fill stroke">Aug</text>
<text x="416.70" y="438" font-size="14" textLength="15.80" lengthAdjust="spacingAndGlyphs" style="fill:#000;stroke:#fff;stroke-width:0.3;paint-order:fill stroke">20</text>
<text x="551.50" y="438" font-size="14" textLength="25.80" lengthAdjust="spacingAndGlyphs" style="fill:#000;stroke:#fff;stroke-width:0.3;paint-order:fill stroke">Aug</text>
<text x="584.70" y="438" font-size="14" textLength="16.60" lengthAdjust="spacingAndGlyphs" style="fill:#000;stroke:#fff;stroke-width:0.3;paint-order:fill stroke">21</text>
<text x="42.90" y="46" font-size="17" textLength="21.40" lengthAdjust="spacingAndGlyphs" style="fill:#000;stroke:#fff;stroke-width:0.3;paint-order:fill stroke">10</text>
<text x="62.50" y="38" font-size="9.5" textLength="6.00" lengthAdjust="spacingAndGlyphs" style="fill:#000">4</text>
<text x="42.90" y="106" font-size="17" textLength="21.40" lengthAdjust="spacingAndGlyphs" style="fill:#000;stroke:#fff;stroke-width:0.3;paint-order:fill stroke">10</text>
<text x="62.50" y="98" font-size="9.5" textLength="6.00" lengthAdjust="spacingAndGlyphs" style="fill:#000">3</text>
<text x="42.90" y="170" font-size="17" textLength="21.40" lengthAdjust="spacingAndGlyphs" style="fill:#000;stroke:#fff;stroke-width:0.3;paint-order:fill stroke">10</text>
<text x="62.50" y="162" font-size="9.5" textLength="6.00" lengthAdjust="spacingAndGlyphs" style="fill:#000">2</text>
<text x="42.90" y="234" font-size="17" textLength="21.40" lengthAdjust="spacingAndGlyphs" style="fill:#000;stroke:#fff;stroke-width:0.3;paint-order:fill stroke">10</text>
<text x="62.50" y="226" font-size="9.5" textLength="6.00" lengthAdjust="spacingAndGlyphs" style="fill:#000">1</text>
<text x="42.90" y="298" font-size="17" textLength="21.40" lengthAdjust="spacingAndGlyphs" style="fill:#000;stroke:#fff;stroke-width:0.3;paint-order:fill stroke">10</text>
<text x="62.50" y="290" font-size="9.5" textLength="6.00" lengthAdjust="spacingAndGlyphs" style="fill:#000">0</text>
<text x="36.90" y="362" font-size="17" textLength="21.40" lengthAdjust="spacingAndGlyphs" style="fill:#000;stroke:#fff;stroke-width:0.3;paint-order:fill stroke">10</text>
<text x="57.50" y="354" font-size="9.5" textLength="10.00" lengthAdjust="spacingAndGlyphs" style="fill:#000">−1</text>
<text x="36.90" y="420" font-size="17" textLength="21.40" lengthAdjust="spacingAndGlyphs" style="fill:#000;stroke:#fff;stroke-width:0.3;paint-order:fill stroke">10</text>
<text x="57.50" y="412" font-size="9.5" textLength="10.00" lengthAdjust="spacingAndGlyphs" style="fill:#000">−2</text>
<text transform="translate(20.00 336.90) rotate(-90)" font-size="18.7" textLength="80.40" lengthAdjust="spacingAndGlyphs" style="fill:#000;stroke:#fff;stroke-width:0.3;paint-order:fill stroke">Particles</text>
<text transform="translate(20.00 247.70) rotate(-90)" font-size="18.7" textLength="28.60" lengthAdjust="spacingAndGlyphs" style="fill:#000;stroke:#fff;stroke-width:0.3;paint-order:fill stroke">cm</text>
<text transform="translate(20.00 207.70) rotate(-90)" font-size="18.7" textLength="9.40" lengthAdjust="spacingAndGlyphs" style="fill:#000;stroke:#fff;stroke-width:0.3;paint-order:fill stroke">s</text>
<text transform="translate(20.00 186.65) rotate(-90)" font-size="18.7" textLength="18.60" lengthAdjust="spacingAndGlyphs" style="fill:#000;stroke:#fff;stroke-width:0.3;paint-order:fill stroke">sr</text>
<text transform="translate(11.00 218.80) rotate(-90)" font-size="9.5" textLength="12.00" lengthAdjust="spacingAndGlyphs" style="fill:#000">−2</text>
<text transform="translate(11.00 197.70) rotate(-90)" font-size="9.5" textLength="10.10" lengthAdjust="spacingAndGlyphs" style="fill:#000">−1</text>
<text transform="translate(11.00 168.30) rotate(-90)" font-size="9.5" textLength="12.00" lengthAdjust="spacingAndGlyphs" style="fill:#000">−1</text>
<text transform="translate(622.00 144.10) rotate(-90)" font-size="18.7" textLength="33.80" lengthAdjust="spacingAndGlyphs" style="fill:#000;stroke:#fff;stroke-width:0.3;paint-order:fill stroke">MeV</text>
<text transform="translate(622.00 216.10) rotate(-90)" font-size="18.7" textLength="12.60" lengthAdjust="spacingAndGlyphs" style="fill:#ff2000;stroke:#fff;stroke-width:0.3;paint-order:fill stroke">&gt;</text>
<text transform="translate(622.00 203.50) rotate(-90)" font-size="18.7" textLength="15.00" lengthAdjust="spacingAndGlyphs" style="fill:#ff2000;stroke:#fff;stroke-width:0.3;paint-order:fill stroke">=</text>
<text transform="translate(622.00 188.60) rotate(-90)" font-size="18.7" textLength="22.10" lengthAdjust="spacingAndGlyphs" style="fill:#ff2000;stroke:#fff;stroke-width:0.3;paint-order:fill stroke">10</text>
<text transform="translate(622.00 312.10) rotate(-90)" font-size="18.7" textLength="12.60" lengthAdjust="spacingAndGlyphs" style="fill:#2000ff;stroke:#fff;stroke-width:0.3;paint-order:fill stroke">&gt;</text>
<text transform="translate(622.00 299.90) rotate(-90)" font-size="18.7" textLength="15.40" lengthAdjust="spacingAndGlyphs" style="fill:#2000ff;stroke:#fff;stroke-width:0.3;paint-order:fill stroke">=</text>
<text transform="translate(622.00 284.80) rotate(-90)" font-size="18.7" textLength="22.00" lengthAdjust="spacingAndGlyphs" style="fill:#2000ff;stroke:#fff;stroke-width:0.3;paint-order:fill stroke">50</text>
<text transform="translate(622.00 408.10) rotate(-90)" font-size="18.7" textLength="12.60" lengthAdjust="spacingAndGlyphs" style="fill:#20ff00;stroke:#fff;stroke-width:0.3;paint-order:fill stroke">&gt;</text>
<text transform="translate(622.00 395.90) rotate(-90)" font-size="18.7" textLength="15.40" lengthAdjust="spacingAndGlyphs" style="fill:#20ff00;stroke:#fff;stroke-width:0.3;paint-order:fill stroke">=</text>
<text transform="translate(622.00 380.60) rotate(-90)" font-size="18.7" textLength="33.10" lengthAdjust="spacingAndGlyphs" style="fill:#20ff00;stroke:#fff;stroke-width:0.3;paint-order:fill stroke">100</text>
</svg></body></html>
